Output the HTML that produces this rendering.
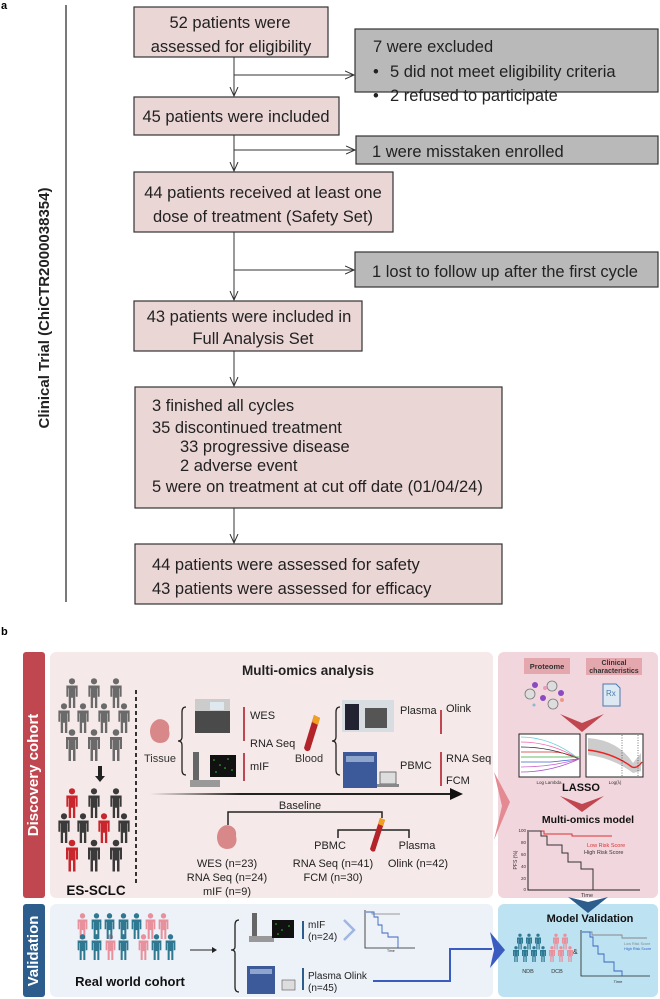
<!DOCTYPE html>
<html><head><meta charset="utf-8"><style>
html,body{margin:0;padding:0;background:#fff;}
svg{display:block;font-family:"Liberation Sans",Arial,sans-serif;}
</style></head><body>
<svg width="660" height="999" viewBox="0 0 660 999" xmlns="http://www.w3.org/2000/svg">
<defs>
<marker id="ah" markerWidth="10" markerHeight="10" refX="9" refY="5" orient="auto" markerUnits="userSpaceOnUse"><path d="M0,1 L9,5 L0,9" fill="none" stroke="#333" stroke-width="1"/></marker>
<symbol id="p" viewBox="0 0 16 32"><circle cx="8" cy="3.5" r="3.3"/><path d="M2,8 h12 v12 h-2 v-9 h-0.5 v21 h-2.5 v-11 h-2 v11 h-2.5 v-21 h-0.5 v9 h-2z"/></symbol>
</defs>
<rect width="660" height="999" fill="#fff"/>
<!-- part a -->
<text x="1" y="9" font-size="11" font-weight="bold">a</text>
<line x1="66" y1="5" x2="66" y2="602" stroke="#222" stroke-width="1.2"/>
<text transform="translate(49,308) rotate(-90)" text-anchor="middle" font-size="15" font-weight="bold" fill="#222">Clinical Trial (ChiCTR2000038354)</text>
<g fill="#222" stroke="#333" stroke-width="1.2">
<rect x="134" y="7" width="194" height="50" fill="#ebd6d6"/>
<rect x="355" y="29" width="303" height="63" fill="#b9b9b9"/>
<rect x="134" y="97" width="205" height="38" fill="#ebd6d6"/>
<rect x="356" y="136" width="302" height="28" fill="#b9b9b9"/>
<rect x="134" y="172" width="259" height="60" fill="#ebd6d6"/>
<rect x="355" y="252" width="303" height="35" fill="#b9b9b9"/>
<rect x="134" y="301" width="228" height="50" fill="#ebd6d6"/>
<rect x="135" y="387" width="367" height="121" fill="#ebd6d6"/>
<rect x="135" y="544" width="367" height="60" fill="#ebd6d6"/>
</g>
<g stroke="#333" stroke-width="1" fill="none">
<line x1="234" y1="57" x2="234" y2="96" marker-end="url(#ah)"/>
<line x1="234" y1="95" x2="354" y2="95" stroke="none"/>
<line x1="234" y1="95" x2="354" y2="95" stroke="none"/>
<line x1="234" y1="95" x2="355" y2="95" stroke="none"/>
<line x1="234" y1="95" x2="354" y2="95" stroke="none"/>
<line x1="234" y1="95" x2="354" y2="95" stroke="none"/>
<line x1="234" y1="95" x2="354" y2="95" stroke="none"/>
<line x1="234" y1="95" x2="354" y2="95" stroke="none"/>
<line x1="234" y1="95" x2="354" y2="95" stroke="none"/>
<line x1="234" y1="95" x2="354" y2="95" stroke="none"/>
<line x1="234" y1="95" x2="354" y2="95" stroke="none"/>
<line x1="234" y1="95" x2="354" y2="95" stroke="none"/>
<line x1="234" y1="95" x2="354" y2="95" stroke="none"/>
<line x1="234" y1="95" x2="354" y2="95" stroke="none"/>
<line x1="234" y1="95" x2="354" y2="95" stroke="none"/>
<line x1="234" y1="95" x2="354" y2="95" stroke="none"/>
<line x1="234" y1="95" x2="354" y2="95" stroke="none"/>
<line x1="234" y1="95" x2="354" y2="95" stroke="none"/>
<line x1="234" y1="95" x2="354" y2="95" stroke="none"/>
<line x1="234" y1="95" x2="354" y2="95" stroke="none"/>
<line x1="234" y1="95" x2="354" y2="95" stroke="none"/>
<line x1="234" y1="95" x2="354" y2="95" stroke="none"/>
<line x1="234" y1="95" x2="354" y2="95" stroke="none"/>
<line x1="234" y1="95" x2="354" y2="95" stroke="none"/>
<line x1="234" y1="95" x2="354" y2="95" stroke="none"/>
<line x1="234" y1="95" x2="354" y2="95" stroke="none"/>
<line x1="234" y1="95" x2="354" y2="95" stroke="none"/>
<line x1="234" y1="95" x2="354" y2="95" stroke="none"/>
<line x1="234" y1="95" x2="354" y2="95" stroke="none"/>
<line x1="234" y1="95" x2="354" y2="95" stroke="none"/>
<line x1="234" y1="95" x2="354" y2="95" stroke="none"/>
<line x1="234" y1="95" x2="354" y2="95" stroke="none"/>
<line x1="234" y1="95" x2="354" y2="95" stroke="none"/>
<line x1="234" y1="95" x2="354" y2="95" stroke="none"/>
<line x1="234" y1="95" x2="354" y2="95" stroke="none"/>
<line x1="234" y1="95" x2="354" y2="95" stroke="none"/>
<line x1="234" y1="95" x2="354" y2="95" stroke="none"/>
<line x1="234" y1="95" x2="354" y2="95" stroke="none"/>
<line x1="234" y1="95" x2="354" y2="95" stroke="none"/>
<line x1="234" y1="95" x2="354" y2="95" stroke="none"/>
<line x1="234" y1="95" x2="354" y2="95" stroke="none"/>
<line x1="234" y1="75" x2="354" y2="75" marker-end="url(#ah)"/>
<line x1="234" y1="135" x2="234" y2="171" marker-end="url(#ah)"/>
<line x1="234" y1="150" x2="355" y2="150" marker-end="url(#ah)"/>
<line x1="234" y1="232" x2="234" y2="300" marker-end="url(#ah)"/>
<line x1="234" y1="270" x2="354" y2="270" marker-end="url(#ah)"/>
<line x1="234" y1="351" x2="234" y2="386" marker-end="url(#ah)"/>
<line x1="234" y1="508" x2="234" y2="543" marker-end="url(#ah)"/>
</g>
<g font-size="16.5" fill="#222">
<text x="230" y="28" text-anchor="middle">52 patients were</text>
<text x="231" y="52" text-anchor="middle">assessed for eligibility</text>
<text x="373" y="52">7 were excluded</text>
<text x="373" y="77">•</text><text x="390" y="77">5 did not meet eligibility criteria</text>
<text x="373" y="101">•</text><text x="390" y="101">2 refused to participate</text>
<text x="236" y="122" text-anchor="middle">45 patients were included</text>
<text x="372" y="196" dy="-39">1 were misstaken enrolled</text>
<text x="263" y="198" text-anchor="middle">44 patients received at least one</text>
<text x="263" y="222" text-anchor="middle">dose of treatment (Safety Set)</text>
<text x="372" y="277">1 lost to follow up after the  first cycle</text>
<text x="249" y="322" text-anchor="middle">43 patients were included in</text>
<text x="253" y="344" text-anchor="middle">Full Analysis Set</text>
<text x="152" y="411">3 finished all cycles</text>
<text x="152" y="433">35 discontinued treatment</text>
<text x="180" y="452">33 progressive disease</text>
<text x="180" y="471">2 adverse event</text>
<text x="152" y="492">5 were on treatment at cut off date (01/04/24)</text>
<text x="152" y="570">44 patients were assessed for safety</text>
<text x="152" y="594">43 patients were assessed for efficacy</text>
</g>
<!-- part b -->
<text x="1" y="635" font-size="11" font-weight="bold">b</text>
<rect x="23" y="652" width="22" height="246" rx="3" fill="#c0464f"/>
<text transform="translate(38,775) rotate(-90)" text-anchor="middle" font-size="15" font-weight="bold" fill="#fff">Discovery cohort</text>
<rect x="50" y="652" width="443" height="246" rx="6" fill="#f6e9e9"/>
<rect x="498" y="652" width="160" height="246" rx="6" fill="#f1d6dd"/>
<rect x="23" y="904" width="22" height="93" rx="3" fill="#2d5d8d"/>
<text transform="translate(38,951) rotate(-90)" text-anchor="middle" font-size="15" font-weight="bold" fill="#fff">Validation</text>
<rect x="50" y="904" width="443" height="93" rx="6" fill="#edf1f8"/>
<rect x="498" y="904" width="160" height="93" rx="6" fill="#bde2f2"/>
<text x="308" y="675" text-anchor="middle" font-size="13.5" font-weight="bold" fill="#222">Multi-omics analysis</text>
<g fill="#6a6a6a">
<use href="#p" x="64" y="678" width="16" height="30"/><use href="#p" x="86" y="678" width="16" height="30"/><use href="#p" x="108" y="678" width="16" height="30"/>
<use href="#p" x="56" y="703" width="16" height="30"/><use href="#p" x="75" y="703" width="16" height="30"/><use href="#p" x="96" y="703" width="16" height="30"/><use href="#p" x="116" y="703" width="16" height="30"/>
<use href="#p" x="64" y="728" width="16" height="34"/><use href="#p" x="86" y="728" width="16" height="34"/><use href="#p" x="108" y="728" width="16" height="34"/>
</g>
<path d="M98,766 v10 h-3 l5,6 l5,-6 h-3 v-10z" fill="#222"/>
<g fill="#3a3a3a">
<use href="#p" x="86" y="788" width="16" height="30"/><use href="#p" x="108" y="788" width="16" height="30"/>
<use href="#p" x="56" y="813" width="16" height="30"/><use href="#p" x="75" y="813" width="16" height="30"/><use href="#p" x="116" y="813" width="16" height="30"/>
<use href="#p" x="86" y="838" width="16" height="35"/><use href="#p" x="108" y="838" width="16" height="35"/>
</g>
<g fill="#c8262c">
<use href="#p" x="64" y="788" width="16" height="30"/><use href="#p" x="96" y="813" width="16" height="30"/><use href="#p" x="64" y="838" width="16" height="35"/>
</g>
<text x="96" y="895" text-anchor="middle" font-size="13.5" font-weight="bold" fill="#111">ES-SCLC</text>
<line x1="136" y1="690" x2="136" y2="884" stroke="#333" stroke-width="2" stroke-dasharray="4,3"/>
<path d="M152,724 q5,-7 12,-4 q6,3 5,10 q2,8 -4,12 q-8,3 -13,-3 q-4,-8 0,-15z" fill="#d9888a"/>
<text x="160" y="762" text-anchor="middle" font-size="11" fill="#333">Tissue</text>
<path d="M186,707 q-4,0 -4,5 v25 q0,4 -4,4 q4,0 4,4 v25 q0,5 4,5" fill="none" stroke="#222" stroke-width="1.3"/>
<rect x="195" y="699" width="35" height="34" fill="#4a4a4a"/><rect x="195" y="699" width="35" height="12" fill="#ccc"/><rect x="210" y="702" width="14" height="8" fill="#dfe8ee"/>
<rect x="243" y="707" width="2" height="34" fill="#c0464f"/>
<text x="250" y="719" font-size="11" fill="#222">WES</text>
<text x="250" y="747" font-size="11" fill="#222">RNA Seq</text>
<rect x="193" y="752" width="6" height="34" fill="#666"/><rect x="190" y="780" width="30" height="7" fill="#999"/>
<rect x="210" y="755" width="26" height="22" fill="#111"/>
<g fill="#3c3"><circle cx="214" cy="760" r="0.8"/><circle cx="220" cy="765" r="0.8"/><circle cx="228" cy="759" r="0.8"/><circle cx="232" cy="770" r="0.8"/><circle cx="216" cy="772" r="0.8"/><circle cx="225" cy="768" r="0.8"/></g>
<rect x="243" y="753" width="2" height="28" fill="#c0464f"/>
<text x="250" y="770" font-size="11" fill="#222">mIF</text>
<path d="M314,715 l6,3 l-10,32 q-4,3 -6,-2z" fill="#b3242a"/><path d="M314,715 l6,3 l-2,7 l-6,-3z" fill="#f0a020"/>
<text x="309" y="762" text-anchor="middle" font-size="11" fill="#333">Blood</text>
<path d="M340,707 q-4,0 -4,5 v25 q0,4 -4,4 q4,0 4,4 v25 q0,5 4,5" fill="none" stroke="#222" stroke-width="1.3"/>
<rect x="342" y="700" width="52" height="32" fill="#d8dde2"/><rect x="345" y="704" width="14" height="26" fill="#223"/><rect x="365" y="708" width="22" height="20" fill="#555"/>
<text x="400" y="714" font-size="11" fill="#222">Plasma</text>
<rect x="440" y="710" width="2" height="24" fill="#c0464f"/>
<text x="446" y="712" font-size="11" fill="#222">Olink</text>
<rect x="343" y="752" width="34" height="36" fill="#3c5a9a"/><rect x="346" y="756" width="28" height="6" fill="#8fa5cc"/>
<rect x="380" y="772" width="16" height="12" fill="#ddd" stroke="#555" stroke-width="0.8"/><rect x="377" y="784" width="22" height="3" fill="#888"/>
<text x="400" y="769" font-size="11" fill="#222">PBMC</text>
<rect x="440" y="752" width="2" height="34" fill="#c0464f"/>
<text x="446" y="762" font-size="11" fill="#222">RNA Seq</text>
<text x="446" y="784" font-size="11" fill="#222">FCM</text>
<defs><linearGradient id="gl" x1="0" x2="1"><stop offset="0" stop-color="#222" stop-opacity="0"/><stop offset="0.3" stop-color="#222"/></linearGradient></defs>
<rect x="150" y="793" width="302" height="2" fill="url(#gl)"/>
<path d="M450,788 L463,794 L450,800z" fill="#111"/>
<text x="300" y="809" text-anchor="middle" font-size="11" fill="#222">Baseline</text>
<path d="M228,825 v-13 h154 v6" fill="none" stroke="#222" stroke-width="1.5"/>
<path d="M338,838 v-8 h71 v8" fill="none" stroke="#222" stroke-width="1.5"/>
<path d="M380,818 l5,2 l-10,31 q-3,2 -5,-2z" fill="#b3242a"/><path d="M380,818 l5,2 l-2,6 l-5,-2z" fill="#f0a020"/>
<path d="M219,830 q5,-7 12,-4 q6,3 5,10 q2,8 -4,12 q-8,3 -13,-3 q-4,-8 0,-15z" fill="#d9888a"/>
<g font-size="11" fill="#222" text-anchor="middle">
<text x="227" y="867">WES (n=23)</text><text x="227" y="881">RNA Seq (n=24)</text><text x="227" y="895">mIF (n=9)</text>
<text x="330" y="849">PBMC</text><text x="333" y="867">RNA Seq (n=41)</text><text x="333" y="881">FCM (n=30)</text>
<text x="417" y="849">Plasma</text><text x="418" y="867">Olink (n=42)</text>
</g>
<path d="M494,772 L510,802 L494,840 L502,806z" fill="#e48a92"/>
<rect x="524" y="658" width="46" height="16" fill="#e4a7ad"/><text x="547" y="669" text-anchor="middle" font-size="7.5" font-weight="bold" fill="#333">Proteome</text>
<rect x="586" y="658" width="56" height="17" fill="#e4a7ad"/><text x="614" y="665" text-anchor="middle" font-size="7" font-weight="bold" fill="#333">Clinical</text><text x="614" y="673" text-anchor="middle" font-size="7" font-weight="bold" fill="#333">characteristics</text>
<g stroke="#777" stroke-width="0.8" fill="#ddd"><circle cx="530" cy="694" r="5"/><circle cx="552" cy="686" r="5"/><circle cx="553" cy="704" r="5"/></g>
<g fill="#8a4ac0"><circle cx="535" cy="685" r="3"/><circle cx="561" cy="693" r="3"/><circle cx="543" cy="698" r="3"/></g>
<circle cx="545" cy="688" r="2" fill="#e9b"/><circle cx="562" cy="700" r="2" fill="#e98"/><circle cx="534" cy="705" r="1.5" fill="#8bc"/>
<path d="M603,684 h13 l4,4 v18 h-17z" fill="#dce9f2" stroke="#4a7ab0" stroke-width="1"/><text x="606" y="696" font-size="8" fill="#4a7ab0">Rx</text>
<path d="M560,714 L582,723 L604,714 L582,732z" fill="#c0464f"/>
<rect x="519" y="734" width="61" height="43" fill="#fff" stroke="#222" stroke-width="1"/>
<g fill="none" stroke-width="0.8"><path d="M521,737 q30,0 58,22" stroke="#6cd"/><path d="M521,742 q30,0 58,17" stroke="#e6a"/><path d="M521,747 q30,0 58,12" stroke="#222"/><path d="M521,752 h30 q15,0 28,7" stroke="#c33"/><path d="M521,757 h58" stroke="#3a3"/><path d="M521,762 h30 l28,-3" stroke="#36c"/><path d="M521,767 q30,0 58,-8" stroke="#c6c"/><path d="M521,772 q30,0 58,-13" stroke="#a5c"/></g>
<rect x="586" y="734" width="57" height="43" fill="#fff" stroke="#222" stroke-width="1"/>
<path d="M588,738 q30,2 45,25 l8,-10 v18 l-8,2 q-20,-15 -45,-18z" fill="#ccc"/>
<path d="M588,750 q25,3 44,17 q5,2 10,-5" fill="none" stroke="#e22" stroke-width="1.4"/>
<line x1="622" y1="735" x2="622" y2="776" stroke="#222" stroke-width="0.6" stroke-dasharray="1,1.5"/><line x1="638" y1="735" x2="638" y2="776" stroke="#222" stroke-width="0.6" stroke-dasharray="1,1.5"/>
<text x="549" y="784" text-anchor="middle" font-size="4.5" fill="#333">Log Lambda</text><text x="615" y="784" text-anchor="middle" font-size="4.5" fill="#333">Log(λ)</text>
<text x="581" y="791" text-anchor="middle" font-size="11" font-weight="bold" fill="#111">LASSO</text>
<path d="M560,796 L582,804 L604,796 L582,812z" fill="#c0464f"/>
<text x="588" y="823" text-anchor="middle" font-size="10.5" font-weight="bold" fill="#111">Multi-omics model</text>
<path d="M528,830 v60 h112" fill="none" stroke="#222" stroke-width="1"/>
<g font-size="4.5" fill="#333" text-anchor="end"><text x="526" y="832">100</text><text x="526" y="844">80</text><text x="526" y="856">60</text><text x="526" y="868">40</text><text x="526" y="880">20</text><text x="526" y="891">0</text></g>
<text transform="translate(517,860) rotate(-90)" text-anchor="middle" font-size="5" fill="#333">PFS (%)</text>
<path d="M529,831 h15 v3 h28 v2 h40" fill="none" stroke="#d33" stroke-width="1"/>
<path d="M529,831 h12 v5 h6 v9 h15 v8 h6 v9 h13 v7 h12 v21" fill="none" stroke="#333" stroke-width="1"/>
<text x="587" y="847" font-size="5.5" fill="#d33">Low Risk Score</text><text x="584" y="854" font-size="5.5" fill="#333">High Risk Score</text>
<text x="587" y="897" text-anchor="middle" font-size="5.5" fill="#333">Time</text>
<path d="M568,897 L588,902 L608,897 L588,913z" fill="#2d5d8d"/>
<g fill="#e8909c">
<use href="#p" x="76" y="913" width="13" height="26"/><use href="#p" x="144" y="913" width="13" height="26"/><use href="#p" x="157" y="913" width="13" height="26"/>
<use href="#p" x="104" y="933" width="13" height="28"/><use href="#p" x="137" y="933" width="13" height="28"/>
</g>
<g fill="#2e7891">
<use href="#p" x="90" y="913" width="13" height="26"/><use href="#p" x="103" y="913" width="13" height="26"/><use href="#p" x="117" y="913" width="13" height="26"/><use href="#p" x="130" y="913" width="13" height="26"/>
<use href="#p" x="76" y="933" width="13" height="28"/><use href="#p" x="90" y="933" width="13" height="28"/><use href="#p" x="117" y="933" width="13" height="28"/><use href="#p" x="150" y="933" width="13" height="28"/><use href="#p" x="164" y="933" width="13" height="28"/>
</g>
<text x="130" y="986" text-anchor="middle" font-size="13" font-weight="bold" fill="#111">Real world cohort</text>
<line x1="190" y1="950" x2="214" y2="950" stroke="#222" stroke-width="1"/><path d="M212,947 l5,3 l-5,3z" fill="#222"/>
<path d="M239,920 q-4,0 -4,5 v22 q0,3 -4,3 q4,0 4,3 v34 q0,5 4,5" fill="none" stroke="#222" stroke-width="1.3"/>
<rect x="252" y="913" width="5" height="28" fill="#666"/><rect x="249" y="936" width="25" height="6" fill="#999"/><rect x="272" y="920" width="22" height="18" fill="#111"/>
<g fill="#3c3"><circle cx="276" cy="924" r="0.8"/><circle cx="282" cy="930" r="0.8"/><circle cx="289" cy="926" r="0.8"/><circle cx="278" cy="934" r="0.8"/></g>
<rect x="302" y="921" width="2" height="18" fill="#2d5d8d"/>
<text x="308" y="928" font-size="10" fill="#222">mIF</text><text x="308" y="940" font-size="10" fill="#222">(n=24)</text>
<path d="M344,920 L354,930 L344,940" fill="none" stroke="#9fb6e0" stroke-width="2.5"/>
<path d="M365,910 v38 h50" fill="none" stroke="#222" stroke-width="0.8"/>
<path d="M366,912 h6 v2 h28" fill="none" stroke="#999" stroke-width="0.9"/>
<path d="M366,912 h8 v5 h4 v8 h4 v8 h6 v4 h10 v11" fill="none" stroke="#3a64c0" stroke-width="0.9"/>
<text x="387" y="952" font-size="3.5" fill="#333">Time</text>
<rect x="247" y="966" width="28" height="28" fill="#3c5a9a"/><rect x="250" y="969" width="22" height="5" fill="#8fa5cc"/>
<rect x="282" y="980" width="13" height="10" fill="#ddd" stroke="#555" stroke-width="0.6"/>
<rect x="302" y="968" width="2" height="22" fill="#2d5d8d"/>
<text x="308" y="979" font-size="10" fill="#222">Plasma Olink</text><text x="308" y="991" font-size="10" fill="#222">(n=45)</text>
<path d="M373,981 h77 v-32 h42" fill="none" stroke="#3a5cc0" stroke-width="2"/>
<path d="M490,932 L505,950 L490,968 L494,950z" fill="#3a5cc0"/>
<text x="590" y="922" text-anchor="middle" font-size="11" font-weight="bold" fill="#111">Model Validation</text>
<g fill="#2e7891"><use href="#p" x="516" y="933" width="8" height="17"/><use href="#p" x="525" y="933" width="8" height="17"/><use href="#p" x="534" y="933" width="8" height="17"/><use href="#p" x="512" y="944" width="8" height="20"/><use href="#p" x="521" y="944" width="8" height="20"/><use href="#p" x="530" y="944" width="8" height="20"/><use href="#p" x="539" y="944" width="8" height="20"/></g>
<g fill="#e8909c"><use href="#p" x="552" y="933" width="8" height="17"/><use href="#p" x="561" y="933" width="8" height="17"/><use href="#p" x="548" y="944" width="8" height="20"/><use href="#p" x="557" y="944" width="8" height="20"/><use href="#p" x="566" y="944" width="8" height="20"/></g>
<text x="528" y="973" text-anchor="middle" font-size="5.5" fill="#333">NDB</text><text x="557" y="973" text-anchor="middle" font-size="5.5" fill="#333">DCB</text>
<text x="573" y="954" font-size="7" fill="#333">&amp;</text>
<path d="M581,930 v46 h69" fill="none" stroke="#222" stroke-width="0.8"/>
<path d="M582,932 h10 v3 h30 v3 h25" fill="none" stroke="#888" stroke-width="0.9"/>
<path d="M582,932 h8 v5 h3 v9 h5 v8 h6 v8 h10 v9 h8 v5" fill="none" stroke="#3a64c0" stroke-width="0.9"/>
<text x="624" y="945" font-size="3.8" fill="#888">Low Risk Score</text><text x="624" y="950" font-size="3.8" fill="#3a64c0">High Risk Score</text>
<text x="618" y="983" text-anchor="middle" font-size="4" fill="#333">Time</text>
</svg>
</body></html>
